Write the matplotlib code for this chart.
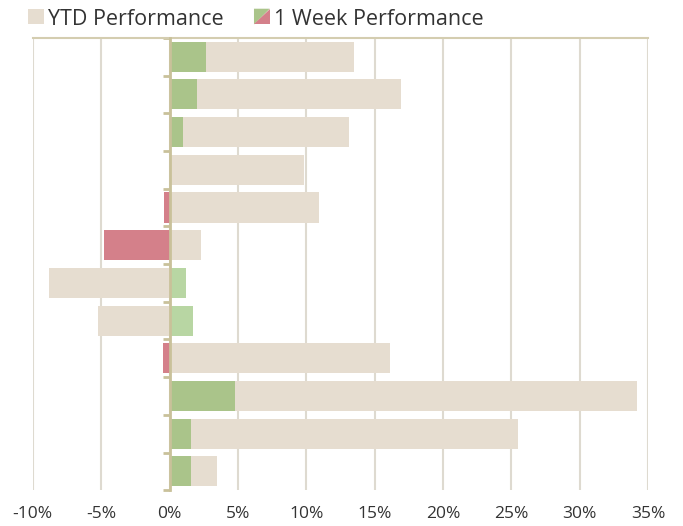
import matplotlib.pyplot as plt
from matplotlib.legend_handler import HandlerBase
from matplotlib.patches import Polygon, Rectangle
from matplotlib.ticker import FuncFormatter

# values in percent, top row first
ytd = [13.5, 16.9, 13.1, 9.8, 10.9, 2.3, -8.8, -5.2, 16.1, 34.2, 25.5, 3.5]
week = [2.7, 2.0, 1.0, 0.05, -0.4, -4.8, 1.2, 1.7, -0.45, 4.8, 1.6, 1.6]
week_shade = ["g", "g", "g", "g", "r", "r", "lg", "lg", "r", "g", "g", "g"]
xticks = [-10, -5, 0, 5, 10, 15, 20, 25, 30, 35]

BEIGE = "#e6ddd0"
COLORS = {"g": "#aac48a", "lg": "#b8d6a3", "r": "#d4808a"}
TAN = "#c9c19a"


class SplitHandler(HandlerBase):
    def create_artists(self, legend, orig, xd, yd, w, h, fs, trans):
        s = h
        x0 = xd + (w - s) / 2
        up = Polygon([[x0, yd], [x0 + s, yd + s], [x0, yd + s]],
                     closed=True, fc=COLORS["g"], ec="none", transform=trans)
        dn = Polygon([[x0, yd], [x0 + s, yd], [x0 + s, yd + s]],
                     closed=True, fc=COLORS["r"], ec="none", transform=trans)
        return [up, dn]


class SquareHandler(HandlerBase):
    def create_artists(self, legend, orig, xd, yd, w, h, fs, trans):
        s = h
        x0 = xd + (w - s) / 2
        return [Rectangle((x0, yd), s, s, fc=BEIGE, ec="none", transform=trans)]


plt.rcParams['font.family'] = ['Open Sans', 'DejaVu Sans']
fig = plt.figure(figsize=(6.83, 5.26), dpi=100)
ax = fig.add_axes([0.048, 0.068, 0.901, 0.86])

n = len(ytd)
ys = list(range(n))
ax.barh(ys, ytd, height=0.8, color=BEIGE, zorder=2)
ax.barh(ys, week, height=0.8, color=[COLORS[c] for c in week_shade], zorder=3)

ax.set_xlim(-10, 35)
ax.set_ylim(n - 0.5, -0.5)
ax.set_xticks(xticks)
ax.xaxis.set_major_formatter(FuncFormatter(lambda v, p: f"{v:.0f}%"))
ax.tick_params(axis="x", length=0, pad=11, labelsize=12.5, labelcolor="#333333")
ax.grid(axis="x", color="#dedad0", linewidth=1.5, zorder=0)

# y axis drawn at zero with small ticks between the rows
ax.set_yticks([i + 0.5 for i in range(-1, n)])
ax.set_yticklabels([])
ax.tick_params(axis="y", length=5, width=2, color=TAN)
ax.spines["left"].set_position(("data", 0))
ax.spines["left"].set_color(TAN)
ax.spines["left"].set_linewidth(2)
ax.spines["left"].set_zorder(4)
ax.spines["top"].set_color("#d4cdb0")
ax.spines["top"].set_linewidth(1.5)
ax.spines["right"].set_visible(False)
ax.spines["bottom"].set_visible(False)

h1 = Rectangle((0, 0), 1, 1)
h2 = Rectangle((0, 0), 1, 1, label="x")
fig.legend([h1, h2], ["YTD Performance", "1 Week Performance"],
           handler_map={h1: SquareHandler(), h2: SplitHandler()},
           loc="upper left", bbox_to_anchor=(0.012, 1.02), ncol=2,
           frameon=False, fontsize=15.5, handlelength=0.75, handleheight=0.75,
           handletextpad=0.2, columnspacing=1.4, labelcolor="#333333")

fig.savefig("out.png", dpi=100)
